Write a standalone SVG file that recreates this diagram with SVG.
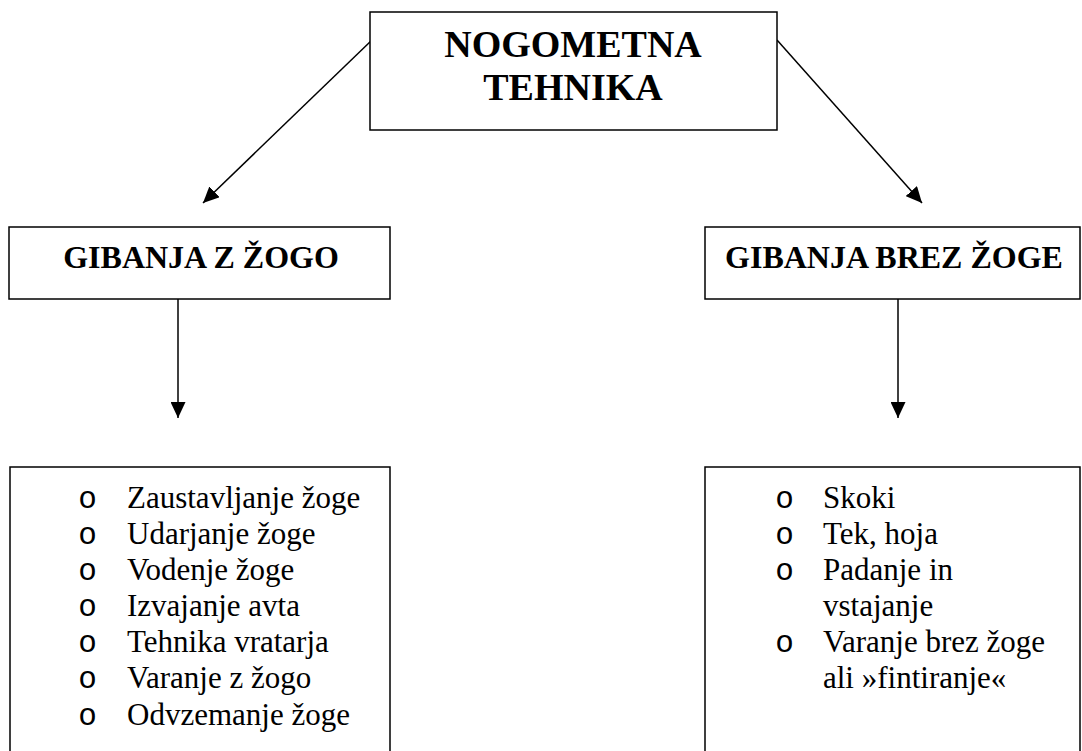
<svg xmlns="http://www.w3.org/2000/svg" width="1082" height="751" viewBox="0 0 1082 751">
<defs>
<style>
.box{fill:#fff;stroke:#000;stroke-width:1.5}
.hd{font-family:'Liberation Serif','DejaVu Serif',serif;font-weight:bold;fill:#000;text-anchor:middle}
.it{font-family:'Liberation Serif','DejaVu Serif',serif;font-size:31px;fill:#000}
.bl{font-family:'Liberation Mono','DejaVu Sans Mono',monospace;font-size:31px;fill:#000;text-anchor:middle}
.ln{stroke:#000;stroke-width:1.5;fill:none}
</style>
<marker id="ah" viewBox="0 0 16 15" refX="16" refY="7.5" markerWidth="16" markerHeight="15" markerUnits="userSpaceOnUse" orient="auto">
<path d="M0,0 L16,7.5 L0,15 Z" fill="#000"/>
</marker>
</defs>
<rect width="1082" height="751" fill="#fff"/>
<g id="connectors">
<line class="ln" x1="372" y1="40" x2="203" y2="203" marker-end="url(#ah)"/>
<line class="ln" x1="777" y1="40" x2="922" y2="203" marker-end="url(#ah)"/>
<line class="ln" x1="178" y1="299" x2="178" y2="418" marker-end="url(#ah)"/>
<line class="ln" x1="898" y1="299" x2="898" y2="418" marker-end="url(#ah)"/>
</g>
<g id="node-top">
<rect class="box" x="370" y="12" width="407" height="118"/>
<text class="hd" font-size="38" x="573" y="57">NOGOMETNA</text>
<text class="hd" font-size="38" x="573" y="100">TEHNIKA</text>
</g>
<g id="node-z-zogo">
<rect class="box" x="9" y="227" width="381" height="72"/>
<text class="hd" font-size="32" x="201" y="268">GIBANJA Z ŽOGO</text>
</g>
<g id="node-brez-zoge">
<rect class="box" x="705" y="227" width="375" height="72"/>
<text class="hd" font-size="32" x="894" y="268">GIBANJA BREZ ŽOGE</text>
</g>
<g id="list-z-zogo">
<path class="ln" d="M10,760 V467 H390 V760"/>
<text class="bl" x="87.5" y="508">o</text><text class="it" x="127" y="508">Zaustavljanje žoge</text>
<text class="bl" x="87.5" y="544">o</text><text class="it" x="127" y="544">Udarjanje žoge</text>
<text class="bl" x="87.5" y="580">o</text><text class="it" x="127" y="580">Vodenje žoge</text>
<text class="bl" x="87.5" y="616">o</text><text class="it" x="127" y="616">Izvajanje avta</text>
<text class="bl" x="87.5" y="652">o</text><text class="it" x="127" y="652">Tehnika vratarja</text>
<text class="bl" x="87.5" y="688">o</text><text class="it" x="127" y="688">Varanje z žogo</text>
<text class="bl" x="87.5" y="725">o</text><text class="it" x="127" y="725">Odvzemanje žoge</text>
</g>
<g id="list-brez-zoge">
<path class="ln" d="M705,760 V467 H1080 V760"/>
<text class="bl" x="784.5" y="508">o</text><text class="it" x="823" y="508">Skoki</text>
<text class="bl" x="784.5" y="544">o</text><text class="it" x="823" y="544">Tek, hoja</text>
<text class="bl" x="784.5" y="580">o</text><text class="it" x="823" y="580">Padanje in</text>
<text class="it" x="823" y="616">vstajanje</text>
<text class="bl" x="784.5" y="652">o</text><text class="it" x="823" y="652">Varanje brez žoge</text>
<text class="it" x="823" y="688">ali »fintiranje«</text>
</g>
</svg>
